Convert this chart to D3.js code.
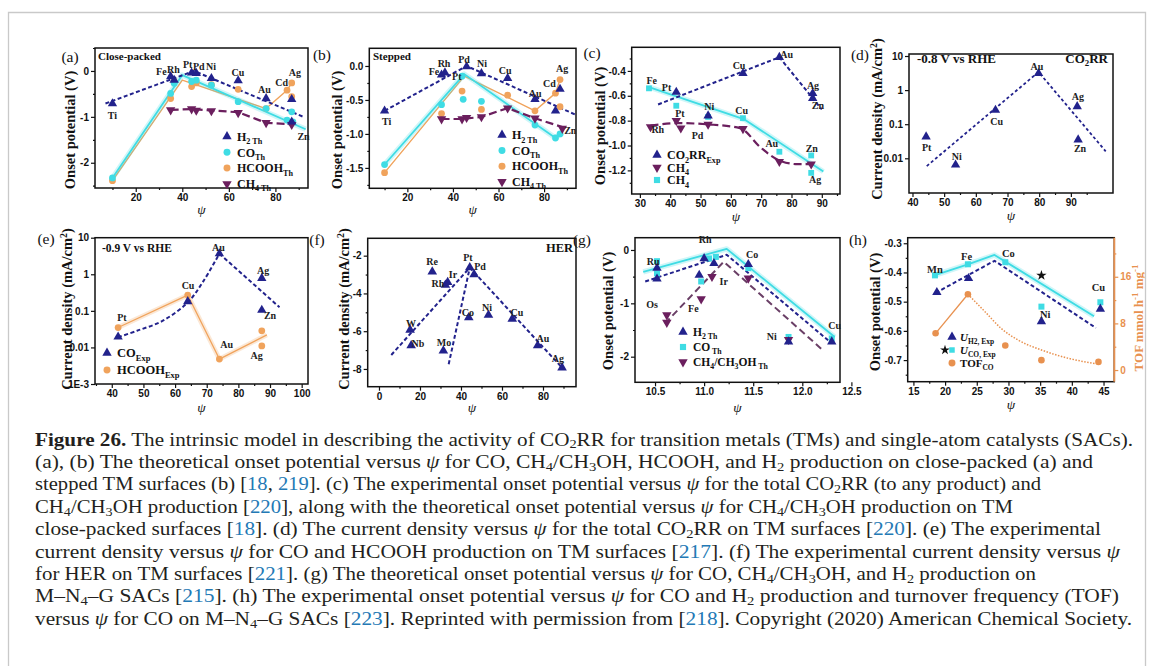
<!DOCTYPE html>
<html><head><meta charset="utf-8">
<script src="https://cdn.jsdelivr.net/npm/d3@7"></script>
<style>body{margin:0;background:#fff}svg{display:block}</style>
</head><body>
<script>
// ================= DATA =================
// (a) close-packed TM surfaces: theoretical onset potential (V) vs psi
const aH2    = [[10,-0.71],[35,-0.12],[36.5,-0.2],[44,-0.04],[46,-0.05],[52.5,-0.16],[64,-0.21],[76,-0.6],[87,-0.62],[87,-1.11]];
const aCO    = [[10,-2.33],[35,-0.49],[36.5,-0.27],[44,-0.23],[46,-0.2],[52.5,-0.31],[64,-0.67],[76,-0.82],[85,-1.07],[87,-0.89],[87.5,-1.11]];
const aHCOOH = [[10,-2.39],[35,-0.6],[36.5,-0.23],[44,-0.34],[46,-0.26],[52.5,-0.3],[64,-0.4],[76,-0.82],[85,-0.42],[87,-0.26],[87,-0.56]];
const aCH4   = [[35,-0.85],[44,-0.83],[46,-0.86],[52.5,-0.87],[64,-0.91],[76,-1.13],[87,-1.17]];
const aLineH2    = [[7,-0.71],[45,0],[92,-1.0]];
const aLineCO    = [[10,-2.33],[40,-0.09],[93,-1.27]];
const aLineHCOOH = [[10,-2.39],[40,-0.2],[76,-0.82],[85,-0.42],[87,-0.26]];
const aLineCH4   = [[35,-0.85],[44,-0.83],[52.5,-0.86],[64,-0.9],[76,-1.13],[87,-1.16]];
const aLabels = [["Ti",10,-0.98],["Fe",31,-0.02],["Rh",36.2,0.04],["Pt",42.3,0.13],["Pd",47.1,0.09],["Ni",52.3,0.09],["Cu",63.9,-0.04],["Au",75.3,-0.41],["Cd",82.7,-0.26],["Ag",88.4,-0.04],["Zn",92.1,-1.43]];

// (b) stepped TM surfaces
const bH2    = [[10,-0.66],[35,-0.13],[36.5,-0.1],[46,-0.01],[52.5,-0.11],[64,-0.18],[76,-0.49],[85,-0.66],[87,-0.34]];
const bCO    = [[10,-1.45],[35,-0.57],[44,-0.15],[44.5,-0.49],[52.5,-0.52],[76,-0.87],[85,-1.06],[87,-1.0]];
const bHCOOH = [[10,-1.57],[35,-0.7],[44,-0.37],[52.5,-0.64],[64,-0.43],[76,-0.66],[85,-0.4],[87,-0.2],[87,-0.6]];
const bCH4   = [[35,-0.78],[44,-0.78],[46,-0.76],[52.5,-0.75],[64,-0.62],[76,-0.77],[88,-0.92]];
const bLineH2    = [[10,-0.66],[46,0],[94,-0.72]];
const bLineCO    = [[10,-1.45],[45,-0.12],[85,-1.06],[88,-0.98]];
const bLineHCOOH = [[10,-1.57],[45,-0.15],[76,-0.66],[85,-0.4],[87,-0.2]];
const bLineCH4   = [[35,-0.78],[44,-0.78],[52.5,-0.75],[64,-0.62],[76,-0.77],[90,-0.92]];
const bLabels = [["Ti",10.9,-0.82],["Fe",31.7,-0.08],["Rh",36.1,0.03],["Pt",41.7,-0.16],["Pd",44.9,0.09],["Ni",52.8,0.03],["Cu",62.9,-0.07],["Au",76.1,-0.4],["Cd",82.3,-0.26],["Ag",87.9,-0.04],["Zn",91.5,-0.95]];

// (c) experimental onset potential
const cExp      = [[42,-0.57],[52.5,-0.76],[64,-0.42],[76,-0.29],[87,-0.58],[87,-0.62]];
const cExpLine  = [[36,-0.67],[76,-0.29],[90,-0.71]];
const cCH4Exp   = [[33.5,-0.85],[42,-0.8],[43.5,-0.86],[52.5,-0.83],[64,-0.865],[76,-1.13],[86.5,-1.15]];
const cCH4ExpLine = [[33.5,-0.84],[43,-0.82],[52.5,-0.83],[63,-0.86],[70,-1.02],[76,-1.12],[82,-1.15],[88,-1.15]];
const cCH4Th    = [[33,-0.54],[42,-0.68],[52.5,-0.77],[64,-0.78],[76,-1.05],[86.5,-1.08],[86.5,-1.22]];
const cCH4ThLine = [[33,-0.53],[64.5,-0.79],[90.5,-1.21]];
const cLabels = [["Fe",33.9,-0.475],["Pt",38.8,-0.53],["Ni",52.9,-0.685],["Cu",63.6,-0.72],["Cu",62.7,-0.354],["Au",78.4,-0.27],["Ag",87.1,-0.515],["Zn",88.7,-0.68],["Pt",43.2,-0.74],["Rh",35.9,-0.87],["Pd",49,-0.92],["Au",73.5,-0.98],["Zn",86.7,-1.02],["Ag",87.8,-1.27]];

// (d) CO2RR current density (mA/cm2) at -0.8 V vs RHE
const dExp  = [[44.3,0.043],[53.6,0.0064],[66.2,0.26],[79.8,3.1],[92,0.33],[92.3,0.035]];
const dLine = [[44.5,0.0059],[79.8,3.4],[101,0.016]];
const dLabels = [["Pt",44.5,0.0214],["Ni",54,0.0111],["Cu",66.6,0.118],["Au",79.3,5.09],["Ag",92.2,0.67],["Zn",92.9,0.02]];

// (e) current density at -0.9 V vs RHE
const eCO        = [[42,0.0195],[64,0.18],[74,3.66],[87.4,0.78],[87.4,0.105]];
const eCOCurve   = [[42,0.019],[48,0.0286],[56,0.053],[64,0.17],[69,0.66],[74,3.66]];
const eCOFall    = [[74,3.66],[93,0.125]];
const eHCOOH     = [[42,0.035],[64,0.27],[74,0.0048],[87.4,0.0285],[87.4,0.011]];
const eHCOOHLine = [[42,0.035],[64,0.27],[74,0.0048],[89,0.022]];
const eLabels = [["Au",73.7,5.3],["Cu",64.1,0.48],["Pt",43.2,0.0675],["Au",76.3,0.0124],["Ag",87.8,1.23],["Zn",90,0.073],["Ag",85.8,0.0059]];

// (f) HER current density
const fHER = [[15.2,-5.93],[15.7,-6.76],[26,-2.85],[31.4,-7.04],[32.4,-3.55],[33.5,-3.41],[44.3,-2.63],[46.4,-2.99],[43.8,-5.28],[53.4,-5.14],[65,-5.35],[77.4,-6.76],[89.3,-7.93]];
const fLine1 = [[6,-7.26],[44.3,-2.63]];
const fLine2 = [[34,-7.75],[44.3,-2.63]];
const fLine3 = [[44.3,-2.63],[89.5,-7.96]];
const fLabels = [["Re",25.9,-2.33],["Ir",36.1,-3.02],["Rh",28.8,-3.5],["Pt",43.4,-2.12],["Pd",49.3,-2.6],["W",15.6,-5.57],["Nb",19,-6.63],["Mo",31.7,-6.58],["Co",43.4,-4.99],["Ni",52.7,-4.77],["Cu",67.3,-4.99],["Au",80,-6.37],["Ag",87.3,-7.43]];

// (g) M-N4-G SACs theoretical onset potential
const gH2  = [[10.52,-0.34],[10.52,-0.54],[10.95,-0.47],[11.0,-0.16],[11.1,-0.25],[11.45,-0.27],[11.86,-1.72],[12.3,-1.72]];
const gCO  = [[10.52,-0.21],[10.52,-0.44],[10.97,-0.59],[11.05,-0.16],[11.12,-0.13],[11.45,-0.34],[11.86,-1.63],[12.3,-1.66]];
const gCH4 = [[10.62,-1.22],[10.62,-1.36],[10.97,-0.92],[11.08,-0.5],[11.45,-0.53],[11.86,-1.68]];
const gLineCO  = [[10.38,-0.41],[11.23,0.02],[12.33,-1.63]];
const gLineH2  = [[10.4,-0.59],[11.23,-0.09],[12.3,-1.75]];
const gLineCH4 = [[10.6,-1.38],[11.2,-0.22],[12.21,-1.88]];
const gLabels = [["Ru",10.48,-0.21],["Rh",11.01,0.19],["Co",11.49,-0.09],["Os",10.47,-1.02],["Fe",10.89,-1.09],["Ir",11.2,-0.59],["Ni",11.69,-1.63],["Cu",12.33,-1.41]];

// (h) M-N4-G SACs experimental onset potential and TOF
const hH2   = [[18.7,-0.468],[23.7,-0.42],[35.2,-0.568],[44.5,-0.525]];
const hCO   = [[18.4,-0.41],[23.6,-0.372],[29.5,-0.365],[35.2,-0.517],[44.5,-0.502]];
const hStar = [[35.2,-0.41]];
const hTOF  = [[18.5,6.3],[23.6,13.0],[29.5,4.2],[35.2,1.7],[44.2,1.4]];
const hLineH2 = [[18.5,-0.47],[27.8,-0.36],[43.8,-0.59]];
const hLineCO = [[18.3,-0.41],[23.6,-0.372],[27.8,-0.34],[43.5,-0.55]];
const hTOFSolid = [[18.5,6.3],[23.6,13.0]];
const hTOFFit = [[23.6,13],[26.3,10],[28.9,7.1],[31.6,5.1],[35.3,3.4],[39.5,2.0],[43.7,1.1]];
const hLabels = [["Mn",18.4,-0.388],["Fe",23.4,-0.346],["Co",30,-0.334],["Ni",35.8,-0.543],["Cu",44.2,-0.452]];

// tick values
const ticksA_x=[20,40,60,80], ticksA_y=[0,-1,-2];
const ticksB_x=[20,40,60,80], ticksB_y=[0,-0.5,-1,-1.5];
const ticksC_x=[30,40,50,60,70,80,90], ticksC_y=[-0.4,-0.6,-0.8,-1.0,-1.2];
const ticksD_x=[40,50,60,70,80,90], ticksD_y=[10,1,0.1,0.01];
const ticksE_x=[40,50,60,70,80,90,100], ticksE_y=[10,1,0.1,0.01,0.001];
const ticksF_x=[0,20,40,60,80], ticksF_y=[-2,-4,-6,-8];
const ticksG_x=[10.5,11,11.5,12,12.5], ticksG_y=[0,-1,-2];
const ticksH_x=[15,20,25,30,35,40,45], ticksH_y=[-0.3,-0.4,-0.5,-0.6,-0.7], ticksH_tof=[0,8,16];

// caption lines (markup: **bold**, _{sub}, «link»)
const captionLines = [
 "**Figure 26.** The intrinsic model in describing the activity of CO_{2}RR for transition metals (TMs) and single-atom catalysts (SACs).",
 "(a), (b) The theoretical onset potential versus ψ for CO, CH_{4}/CH_{3}OH, HCOOH, and H_{2} production on close-packed (a) and",
 "stepped TM surfaces (b) [«18», «219»]. (c) The experimental onset potential versus ψ for the total CO_{2}RR (to any product) and",
 "CH_{4}/CH_{3}OH production [«220»], along with the theoretical onset potential versus ψ for CH_{4}/CH_{3}OH production on TM",
 "close-packed surfaces [«18»]. (d) The current density versus ψ for the total CO_{2}RR on TM surfaces [«220»]. (e) The experimental",
 "current density versus ψ for CO and HCOOH production on TM surfaces [«217»]. (f) The experimental current density versus ψ",
 "for HER on TM surfaces [«221»]. (g) The theoretical onset potential versus ψ for CO, CH_{4}/CH_{3}OH, and H_{2} production on",
 "M–N_{4}–G SACs [«215»]. (h) The experimental onset potential versus ψ for CO and H_{2} production and turnover frequency (TOF)",
 "versus ψ for CO on M–N_{4}–G SACs [«223»]. Reprinted with permission from [«218»]. Copyright (2020) American Chemical Society."
];
const captionEnds = [1133,1093,1041,1013,1101,1120,1036,1119,1132];

// ================= DRAWING =================
const SERIF='"Liberation Serif","Times New Roman",serif';
const SANS='"Liberation Sans",Arial,sans-serif';
const NAVY="#22228c", CYAN="#3fdce4", ORANGE="#f0a35c", PURPLE="#6b1f5e", TOFC="#e8914f", LINK="#2379b5";
const SYM={tri:d3.symbolTriangle,down:d3.symbolTriangle,circle:d3.symbolCircle,square:d3.symbolSquare,star:d3.symbolStar};
const TICKFS=10;

const svg=d3.select("body").append("svg").attr("width",1152).attr("height",666);
svg.append("rect").attr("width",1152).attr("height",666).attr("fill","#fff");
svg.append("path").attr("d","M8.5,666V12.5H1145.5V666").attr("fill","none").attr("stroke","#c9c9c9").attr("stroke-width",1.3);

function rich(sel,parts,fs,subK){
  let shift=0;
  const sk=subK||0.28;
  parts.forEach(([t,k])=>{
    const ts=sel.append("tspan").text(t);
    let target=0;
    if(k==="sub"){target=fs*sk;ts.attr("font-size",fs*0.68);}
    else if(k==="sup"){target=-fs*0.38;ts.attr("font-size",fs*0.68);}
    if(target!==shift){ts.attr("dy",target-shift);shift=target;}
    if(k==="i")ts.attr("font-style","italic");
    if(k==="b")ts.attr("font-weight","bold");
    if(k==="link")ts.attr("fill",LINK);
  });
}

function panel(o){
  const x=d3.scaleLinear().domain(o.xd).range([o.x0,o.x1]);
  const y=(o.log?d3.scaleLog():d3.scaleLinear()).domain(o.yd).range([o.y1,o.y0]);
  const g=svg.append("g");
  const cid="clip_"+o.id;
  svg.append("clipPath").attr("id",cid).append("rect").attr("x",o.x0).attr("y",o.y0).attr("width",o.x1-o.x0).attr("height",o.y1-o.y0);
  g.append("g").attr("transform",`translate(0,${o.y1})`)
    .call(d3.axisBottom(x).tickValues(o.xt).tickSize(4).tickPadding(2).tickFormat(o.xf||(d=>String(d))));
  if(o.xm) g.append("g").attr("transform",`translate(0,${o.y1})`).call(d3.axisBottom(x).tickValues(o.xm).tickSize(2).tickFormat(""));
  g.append("g").attr("transform",`translate(${o.x0},0)`)
    .call(d3.axisLeft(y).tickValues(o.yt).tickSize(4).tickPadding(2).tickFormat(o.yf||(d=>String(d))));
  if(o.ym) g.append("g").attr("transform",`translate(${o.x0},0)`).call(d3.axisLeft(y).tickValues(o.ym).tickSize(2).tickFormat(""));
  g.selectAll(".domain").remove();
  g.selectAll(".tick text").attr("font-family",SANS).attr("font-weight","bold").attr("font-size",TICKFS).attr("fill","#111");
  g.selectAll(".tick line").attr("stroke","#111").attr("stroke-width",1.2);
  g.append("rect").attr("x",o.x0).attr("y",o.y0).attr("width",o.x1-o.x0).attr("height",o.y1-o.y0)
    .attr("fill","none").attr("stroke","#111").attr("stroke-width",1.5);
  const yt=g.append("text").attr("transform",`translate(${o.ylx},${o.yly}) rotate(-90)`).attr("text-anchor","middle")
    .attr("dy","0.35em").attr("font-family",SERIF).attr("font-weight","bold").attr("font-size",14.5).attr("fill","#111");
  rich(yt,o.ylabel,14.5);
  g.append("text").attr("x",(o.x0+o.x1)/2).attr("y",o.xly).attr("dy","0.35em").attr("text-anchor","middle")
    .attr("font-family",SERIF).attr("font-style","italic").attr("font-size",13.5).attr("fill","#111").text("ψ");
  g.append("text").attr("x",o.lx).attr("y",o.ly).attr("dy","0.35em").attr("text-anchor","middle")
    .attr("font-family",SERIF).attr("font-size",15.5).attr("fill","#111").text(o.letter);
  const plot=g.append("g").attr("clip-path",`url(#${cid})`);
  return {x,y,g,plot,o};
}
function line(P,data,color,w,dash,curve,yS,op){
  const ys=yS||P.y;
  P.plot.append("path").datum(data)
    .attr("d",d3.line().x(d=>P.x(d[0])).y(d=>ys(d[1])).curve(curve||d3.curveLinear))
    .attr("fill","none").attr("stroke",color).attr("stroke-width",w).attr("stroke-dasharray",dash||null)
    .attr("stroke-linejoin","round").attr("opacity",op||1);
}
function glowLine(P,data,color,w,curve,yS){
  line(P,data,color,w+3.5,null,curve,yS,0.25);
  line(P,data,color,w,null,curve,yS);
}
function pts(P,data,shape,color,size,yS){
  const ys=yS||P.y;
  P.g.append("g").selectAll("path").data(data).join("path")
    .attr("d",d3.symbol().type(SYM[shape]).size(size||40))
    .attr("transform",d=>`translate(${P.x(d[0])},${ys(d[1])})${shape==="down"?" rotate(180)":""}`)
    .attr("fill",color);
}
function labels(P,data,fs){
  P.g.append("g").selectAll("text").data(data).join("text")
    .attr("x",d=>P.x(d[1])).attr("y",d=>P.y(d[2])).attr("dy","0.35em").attr("text-anchor","middle")
    .attr("font-family",SERIF).attr("font-weight","bold").attr("font-size",fs||10).attr("fill","#222").text(d=>d[0]);
}
function note(P,txt,x,y,anchor,fs){
  const t=P.g.append("text").attr("x",x).attr("y",y).attr("dy","0.35em").attr("text-anchor",anchor||"start")
    .attr("font-family",SERIF).attr("font-weight","bold").attr("font-size",fs).attr("fill","#111");
  rich(t,typeof txt==="string"?[[txt,"n"]]:txt,fs);
}
function legend(P,items,lx,ly,step,fs,tx){
  items.forEach((it,i)=>{
    const yy=ly+i*step;
    it.m.forEach(m=>P.g.append("path").attr("d",d3.symbol().type(SYM[m[0]]).size(m[2]||38))
      .attr("transform",`translate(${lx+(m[3]||0)},${yy})${m[0]==="down"?" rotate(180)":""}`).attr("fill",m[1]));
    const t=P.g.append("text").attr("x",lx+tx).attr("y",yy).attr("dy","0.35em")
      .attr("font-family",SERIF).attr("font-weight","bold").attr("font-size",fs).attr("fill","#111");
    rich(t,it.t,fs);
  });
}
const fmt1=d=>d.toFixed(1);
const ONSET=[["Onset potential (V)","n"]];
const CURR=[["Current density (mA/cm","n"],["2","sup"],[")","n"]];

// ---- (a)
const A=panel({id:"a",x0:95,x1:308,y0:48,y1:188,xd:[2.5,94],yd:[-2.55,0.5],xt:ticksA_x,xm:[10,30,50,70,90],
  yt:ticksA_y,ym:[0.5,-0.5,-1.5,-2.5],ylabel:ONSET,ylx:70,yly:130,xly:209,letter:"(a)",lx:70,ly:57});
line(A,aLineHCOOH,ORANGE,1.4);
glowLine(A,aLineCO,CYAN,1.8);
line(A,aLineCH4,PURPLE,2.2,"8,4");
line(A,aLineH2,NAVY,2,"4,2.5");
pts(A,aHCOOH,"circle",ORANGE,36);pts(A,aCO,"circle",CYAN,36);pts(A,aCH4,"down",PURPLE,38);pts(A,aH2,"tri",NAVY,38);
labels(A,aLabels,10);
note(A,"Close-packed",98,56,"start",11);
legend(A,[{m:[["tri",NAVY]],t:[["H","n"],["2 Th","sub"]]},{m:[["circle",CYAN]],t:[["CO","n"],["Th","sub"]]},
  {m:[["circle",ORANGE]],t:[["HCOOH","n"],["Th","sub"]]},{m:[["down",PURPLE]],t:[["CH","n"],["4 Th","sub"]]}],227,136.5,15.8,12,10);

// ---- (b)
const B=panel({id:"b",x0:369.3,x1:576,y0:48.3,y1:188.3,xd:[3.3,94],yd:[-1.8,0.26],xt:ticksB_x,xm:[10,30,50,70,90],
  yt:ticksB_y,ym:[-0.25,-0.75,-1.25,-1.75],yf:fmt1,ylabel:ONSET,ylx:337,yly:130,xly:209,letter:"(b)",lx:322,ly:55});
line(B,bLineHCOOH,ORANGE,1.4);
glowLine(B,bLineCO,CYAN,1.8);
line(B,bLineCH4,PURPLE,2.2,"8,4");
line(B,bLineH2,NAVY,2,"4,2.5");
pts(B,bHCOOH,"circle",ORANGE,36);pts(B,bCO,"circle",CYAN,36);pts(B,bCH4,"down",PURPLE,38);pts(B,bH2,"tri",NAVY,38);
labels(B,bLabels,10);
note(B,"Stepped",373,56,"start",11);
legend(B,[{m:[["tri",NAVY]],t:[["H","n"],["2 Th","sub"]]},{m:[["circle",CYAN]],t:[["CO","n"],["Th","sub"]]},
  {m:[["circle",ORANGE]],t:[["HCOOH","n"],["Th","sub"]]},{m:[["down",PURPLE]],t:[["CH","n"],["4 Th","sub"]]}],502,135,15.6,12,10);

// ---- (c)
const C=panel({id:"c",x0:631.7,x1:840,y0:47.3,y1:194,xd:[27.3,96],yd:[-1.39,-0.21],xt:ticksC_x,xm:[35,45,55,65,75,85,95],
  yt:ticksC_y,ym:[-0.3,-0.5,-0.7,-0.9,-1.1,-1.3],yf:fmt1,ylabel:ONSET,ylx:600,yly:126,xly:216,letter:"(c)",lx:592,ly:53});
glowLine(C,cCH4ThLine,CYAN,1.8);
line(C,cCH4ExpLine,PURPLE,2.2,"8,4",d3.curveMonotoneX);
line(C,cExpLine,NAVY,2,"4,2.5");
pts(C,cCH4Th,"square",CYAN,34);pts(C,cCH4Exp,"down",PURPLE,38);pts(C,cExp,"tri",NAVY,38);
labels(C,cLabels,10);
legend(C,[{m:[["tri",NAVY]],t:[["CO","n"],["2","sub"],["RR","n"],["Exp","sub"]]},{m:[["down",PURPLE]],t:[["CH","n"],["4","sub"]]},
  {m:[["square",CYAN]],t:[["CH","n"],["4","sub"]]}],657,155,12.5,12,10);

// ---- (d)
const D=panel({id:"d",x0:909,x1:1113,y0:54,y1:193,xd:[38.9,103.3],yd:[0.00096,11.45],log:true,xt:ticksD_x,xm:[45,55,65,75,85,95],
  yt:ticksD_y,ylabel:CURR,ylx:877,yly:119,xly:215,letter:"(d)",lx:860,ly:55});
line(D,dLine,NAVY,1.8,"3,2.5");
pts(D,dExp,"tri",NAVY,38);
labels(D,dLabels,10);
note(D,"-0.8 V vs RHE",917,58,"start",13);
note(D,[["CO","n"],["2","sub"],["RR","n"]],1108,58,"end",13);

// ---- (e)
const E=panel({id:"e",x0:95,x1:308,y0:237.7,y1:384,xd:[34.7,102],yd:[0.001,10],log:true,xt:ticksE_x,xm:[35,45,55,65,75,85,95],
  yt:ticksE_y,yf:d=>d===0.001?"1E-3":String(d),ylabel:CURR,ylx:67,yly:309,xly:407,letter:"(e)",lx:46,ly:239});
glowLine(E,eHCOOHLine,ORANGE,1.3);
line(E,eCOCurve,NAVY,2,"4,2.5",d3.curveCatmullRom);
line(E,eCOFall,NAVY,2,"4,2.5");
pts(E,eHCOOH,"circle",ORANGE,36);pts(E,eCO,"tri",NAVY,38);
labels(E,eLabels,10);
note(E,"-0.9 V vs RHE",102,248,"start",11.5);
legend(E,[{m:[["tri",NAVY]],t:[["CO","n"],["Exp","sub"]]},{m:[["circle",ORANGE]],t:[["HCOOH","n"],["Exp","sub"]]}],107,353,17,12.5,10);

// ---- (f)
const F=panel({id:"f",x0:367.7,x1:576,y0:238.3,y1:386.7,xd:[-5.5,96.1],yd:[-8.94,-1.08],xt:ticksF_x,xm:[10,30,50,70,90],
  yt:ticksF_y,ym:[-3,-5,-7],ylabel:CURR,ylx:344,yly:309,xly:407,letter:"(f)",lx:317,ly:240});
line(F,fLine1,NAVY,2,"4,2.5");line(F,fLine2,NAVY,2,"4,2.5");line(F,fLine3,NAVY,2,"4,2.5");
pts(F,fHER,"tri",NAVY,40);
labels(F,fLabels,10);
note(F,"HER",573,248,"end",12.5);

// ---- (g)
const G=panel({id:"g",x0:635,x1:840,y0:237.7,y1:382.3,xd:[10.296,12.384],yd:[-2.48,0.23],xt:ticksG_x,xm:[10.75,11.25,11.75,12.25],
  xf:fmt1,yt:ticksG_y,ym:[-0.5,-1.5],ylabel:ONSET,ylx:608,yly:311,xly:407,letter:"(g)",lx:582,ly:240});
glowLine(G,gLineCO,CYAN,1.8);
line(G,gLineCH4,"#6a3f66",2,"7,4");
line(G,gLineH2,NAVY,2,"4,2.5");
pts(G,gCO,"square",CYAN,36);pts(G,gCH4,"down",PURPLE,38);pts(G,gH2,"tri",NAVY,38);
labels(G,gLabels,10);
legend(G,[{m:[["tri",NAVY]],t:[["H","n"],["2 Th","sub"]]},{m:[["square",CYAN]],t:[["CO","n"],[" Th","sub"]]},
  {m:[["down",PURPLE]],t:[["CH","n"],["4","sub"],["/CH","n"],["3","sub"],["OH","n"],[" Th","sub"]]}],683,332,15,11.5,10);

// ---- (h)
const Hp=panel({id:"h",x0:907.7,x1:1114.3,y0:237.7,y1:381.7,xd:[14.1,46.7],yd:[-0.774,-0.281],xt:ticksH_x,xm:[17.5,22.5,27.5,32.5,37.5,42.5],
  yt:ticksH_y,ym:[-0.35,-0.45,-0.55,-0.65,-0.75],yf:fmt1,ylabel:ONSET,ylx:875,yly:312,xly:404,letter:"(h)",lx:858,ly:240});
const yTOF=d3.scaleLinear().domain([-2,22.7]).range([381.7,237.7]);
const rg=Hp.g.append("g");
rg.append("g").attr("transform","translate(1114.3,0)")
  .call(d3.axisRight(yTOF).tickValues(ticksH_tof).tickSize(4).tickPadding(2).tickFormat(d=>String(d)));
rg.append("g").attr("transform","translate(1114.3,0)").call(d3.axisRight(yTOF).tickValues([4,12,20]).tickSize(2).tickFormat(""));
rg.selectAll(".domain").remove();
rg.selectAll("text").attr("font-family",SANS).attr("font-weight","bold").attr("font-size",TICKFS).attr("fill",TOFC);
rg.selectAll("line").attr("stroke",TOFC).attr("stroke-width",1.2);
rg.append("line").attr("x1",1114.3).attr("x2",1114.3).attr("y1",237.7).attr("y2",381.7).attr("stroke",TOFC).attr("stroke-width",1.8);
svg.append("clipPath").attr("id","clipTOF").append("rect").attr("x",1125).attr("y",230).attr("width",19.5).attr("height",160);
const tg=svg.append("g").attr("clip-path","url(#clipTOF)");
const tt=tg.append("text").attr("transform","translate(1138,318) rotate(-90)").attr("text-anchor","middle")
  .attr("dy","0.35em").attr("font-family",SERIF).attr("font-weight","bold").attr("font-size",13).attr("fill",TOFC);
rich(tt,[["TOF mmol h","n"],["-1","sup"],[" mg","n"],["-1","sup"]],13);
line(Hp,hTOFSolid,TOFC,1.3,null,null,yTOF);
line(Hp,hTOFFit,TOFC,1.5,"1.5,1.5",d3.curveMonotoneX,yTOF);
glowLine(Hp,hLineCO,CYAN,1.8);
line(Hp,hLineH2,NAVY,2,"4,2.5");
pts(Hp,hTOF,"circle",TOFC,34,yTOF);pts(Hp,hCO,"square",CYAN,36);pts(Hp,hH2,"tri",NAVY,38);pts(Hp,hStar,"star","#111",34);
labels(Hp,hLabels,10.5);
legend(Hp,[{m:[["tri",NAVY]],t:[["U","i"],["H2, Exp","sub"]]},{m:[["star","#111",30,-7],["square",CYAN,30]],t:[["U","i"],["CO, Exp","sub"]]},
  {m:[["circle",TOFC]],t:[["TOF","n"],["CO","sub"]]}],952,337,13,11,8);

// ---- caption
function parse(s){
  return s.split(/(\*\*.+?\*\*|_\{.+?\}|«.+?»|ψ)/g).filter(t=>t).map(t=>{
    if(t.startsWith("**"))return [t.slice(2,-2),"b"];
    if(t.startsWith("_{"))return [t.slice(2,-1),"sub"];
    if(t.startsWith("«"))return [t.slice(1,-1),"link"];
    if(t==="ψ")return [t,"i"];
    return [t,"n"];
  });
}
captionLines.forEach((s,i)=>{
  const t=svg.append("text").attr("x",35).attr("y",445.5+i*22.4).attr("font-family",SERIF).attr("font-size",18.5).attr("fill","#231f20")
    .attr("textLength",captionEnds[i]-35).attr("lengthAdjust","spacingAndGlyphs");
  rich(t,parse(s),18.5,0.16);
});
</script>
</body></html>
